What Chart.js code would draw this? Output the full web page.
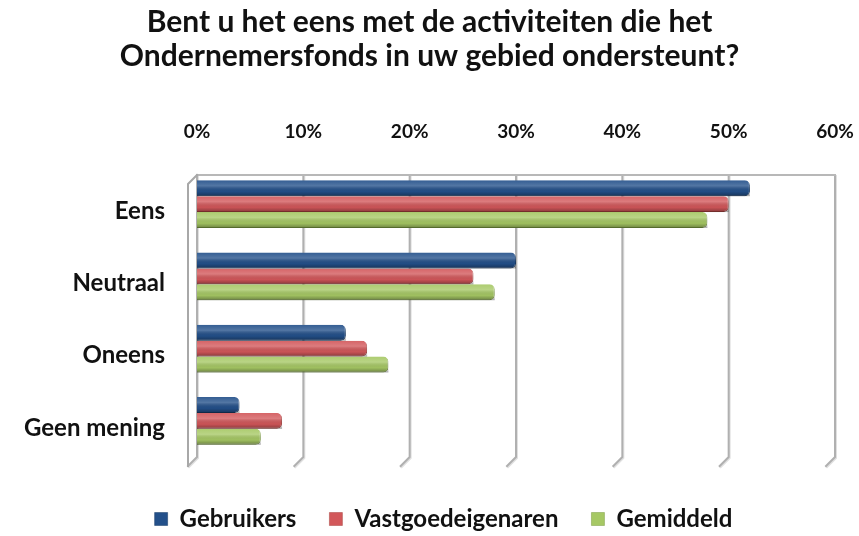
<!DOCTYPE html>
<html>
<head>
<meta charset="utf-8">
<script src="https://cdn.jsdelivr.net/npm/chart.js@4/dist/chart.umd.min.js"></script>
<style>
html,body{margin:0;padding:0;background:#fff;}
#wrap{width:859px;height:536px;position:relative;}
</style>
</head>
<body>
<div id="wrap"><canvas id="c" width="859" height="536"></canvas></div>
<script>
const categories = ["Eens", "Neutraal", "Oneens", "Geen mening"];
const gebruikers = [52, 30, 14, 4];
const vastgoedeigenaren = [50, 26, 16, 8];
const gemiddeld = [48, 28, 18, 6];
const tickValues = [0, 10, 20, 30, 40, 50, 60];
const titleLines = ["Bent u het eens met de activiteiten die het", "Ondernemersfonds in uw gebied ondersteunt?"];

// 3D-style back wall: gridlines at the scale's tick positions, with floor "feet"
const wall = {
  id: 'wall',
  beforeDatasetsDraw(chart) {
    const ctx = chart.ctx, a = chart.chartArea, xs = chart.scales.x;
    const top = a.top + 7, bot = a.bottom, d = 9;
    ctx.save();
    ctx.lineCap = 'square';
    const stroke = (pts, color, w) => {
      ctx.beginPath();
      ctx.moveTo(pts[0][0], pts[0][1]);
      for (let i = 1; i < pts.length; i++) ctx.lineTo(pts[i][0], pts[i][1]);
      ctx.strokeStyle = color; ctx.lineWidth = w; ctx.stroke();
    };
    tickValues.forEach(v => {
      const x = xs.getPixelForValue(v);
      stroke([[x + 1, top + 1], [x + 1, bot + 1], [x - d + 1, bot + d + 1]], 'rgba(0,0,0,0.12)', 2);
      stroke([[x, top], [x, bot], [x - d, bot + d]], '#b0b0b0', 2);
    });
    const l = xs.getPixelForValue(tickValues[0]), r = xs.getPixelForValue(tickValues[tickValues.length - 1]);
    stroke([[l, top], [r, top]], '#b8b8b8', 2);
    stroke([[l, top], [l - d, top + d], [l - d, bot + d]], '#a8a8a8', 2);
    ctx.restore();
  }
};

const shade = {
  id: 'shade',
  afterDatasetDraw(chart, args) {
    const ctx = chart.ctx;
    args.meta.data.forEach(el => {
      const h = el.height;
      const top = el.y - h / 2;
      const g = ctx.createLinearGradient(0, top, 0, top + h);
      g.addColorStop(0, 'rgba(255,255,255,0.08)');
      g.addColorStop(0.35, 'rgba(255,255,255,0.22)');
      g.addColorStop(0.7, 'rgba(0,0,0,0.04)');
      g.addColorStop(1, 'rgba(0,0,0,0.35)');
      ctx.save();
      ctx.fillStyle = g;
      ctx.fillRect(el.base, top, el.x - el.base, h);
      ctx.restore();
    });
  }
};

const legendFit = {
  id: 'legendFit',
  beforeInit(chart) {
    const orig = chart.legend.fit;
    chart.legend.fit = function () {
      orig.call(this);
      this.height = 62;
    };
  },
  afterLayout(chart) {
    chart.legend.left += 14;
    chart.legend.right += 14;
  }
};

new Chart(document.getElementById('c'), {
  type: 'bar',
  data: {
    labels: categories,
    datasets: [
      { label: 'Gebruikers', data: gebruikers, backgroundColor: '#23508a', borderColor: '#173a66', borderWidth: {right:1,bottom:1}, borderRadius: {topRight:5,bottomRight:5}, borderSkipped: 'left' },
      { label: 'Vastgoedeigenaren', data: vastgoedeigenaren, backgroundColor: '#d2575a', borderColor: '#a8423f', borderWidth: {right:1,bottom:1}, borderRadius: {topRight:5,bottomRight:5}, borderSkipped: 'left' },
      { label: 'Gemiddeld', data: gemiddeld, backgroundColor: '#a6c864', borderColor: '#7a9a40', borderWidth: {right:1,bottom:1}, borderRadius: {topRight:5,bottomRight:5}, borderSkipped: 'left' }
    ]
  },
  options: {
    indexAxis: 'y',
    responsive: false,
    animation: false,
    devicePixelRatio: 1,
    layout: { padding: { left: 0, right: 0, top: 4, bottom: 0 } },
    datasets: { bar: { categoryPercentage: 0.66, barPercentage: 1.0 } },
    scales: {
      x: {
        position: 'top',
        min: 0, max: 60,
        afterBuildTicks(scale) { scale.ticks = tickValues.map(v => ({ value: v })); },
        afterFit(scale) { scale.height = 95; scale.paddingLeft = 0; scale.paddingRight = 24; },
        grid: { display: false, drawTicks: false },
        border: { display: false },
        ticks: {
          padding: 25,
          color: '#111',
          font: { family: 'Lato', size: 19, weight: 'bold' },
          callback: v => v + '%'
        }
      },
      x2: {
        type: 'linear',
        position: 'bottom',
        display: true,
        afterFit(scale) { scale.height = 17; scale.paddingLeft = 0; scale.paddingRight = 0; },
        grid: { display: false, drawTicks: false },
        border: { display: false },
        ticks: { display: false }
      },
      y: {
        afterFit(scale) { scale.width = 197; },
        grid: { display: false, drawTicks: false },
        border: { display: false },
        ticks: {
          padding: 32,
          labelOffset: 7,
          color: '#111',
          font: { family: 'Lato', size: 24, weight: 'bold' }
        }
      }
    },
    plugins: {
      title: {
        display: true,
        text: titleLines,
        color: '#111',
        font: { family: 'Lato', size: 30, weight: 'bold', lineHeight: 1.133 },
        padding: { top: 1, bottom: 0 }
      },
      legend: {
        position: 'bottom',
        labels: {
          boxWidth: 13, boxHeight: 13, padding: 33,
          color: '#111',
          font: { family: 'Lato', size: 24, weight: 'bold' }
        }
      },
      tooltip: { enabled: false }
    }
  },
  plugins: [wall, shade, legendFit]
});
</script>
</body>
</html>
